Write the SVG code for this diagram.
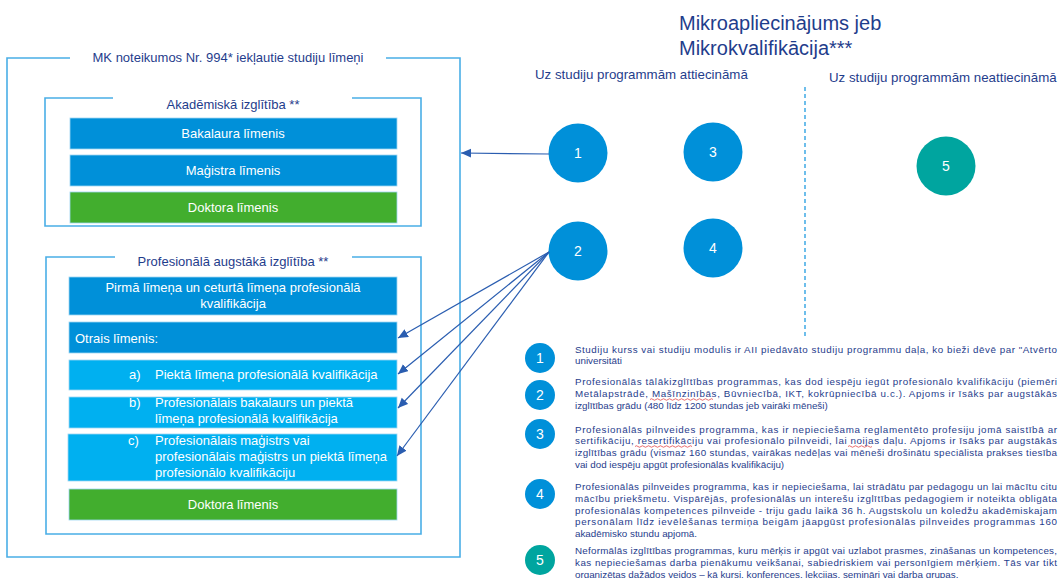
<svg xmlns="http://www.w3.org/2000/svg" width="1061" height="578" viewBox="0 0 1061 578">
<defs>
<style>
.frame{fill:none;stroke:#4aaee6;stroke-width:1.6}
.ftitle{font-family:"Liberation Sans",Arial,sans-serif;font-size:13px;fill:#1f3d8c;text-anchor:middle}
.dk{fill:#0090d9}
.lt{fill:#00b0f0}
.gr{fill:#42ae2e}
.bx{stroke:#9fd6f2;stroke-width:0.8}
.bt{font-family:"Liberation Sans",Arial,sans-serif;font-size:13px;fill:#ffffff}
.c{text-anchor:middle}
.circ{fill:#0090d9}
.teal{fill:#00a59f}
.num{font-family:"Liberation Sans",Arial,sans-serif;font-size:14px;fill:#ffffff;text-anchor:middle}
.lnum{font-family:"Liberation Sans",Arial,sans-serif;font-size:14px;fill:#ffffff;text-anchor:middle}
.hd{font-family:"Liberation Sans",Arial,sans-serif;font-size:20px;fill:#1f3d8c}
.sub{font-family:"Liberation Sans",Arial,sans-serif;font-size:13.3px;fill:#1f3d8c}
.lg{font-family:"Liberation Sans",Arial,sans-serif;font-size:9.8px;fill:#1f3d8c}
.arr{stroke:#2a5db0;stroke-width:1.2;fill:none;marker-end:url(#ah)}
.sq{fill:none;stroke:#e03030;stroke-width:0.7}
</style>
<marker id="ah" markerUnits="userSpaceOnUse" markerWidth="12" markerHeight="10" refX="10" refY="4.5" orient="auto">
<path d="M0,0 L10,4.5 L0,9 Z" fill="#2a5db0"/>
</marker>
</defs>
<rect width="1061" height="578" fill="#ffffff"/>

<g id="outer-frame">
<path class="frame" d="M70,58 H7 V557 H460 V58 H386"/>
<text class="ftitle" x="228" y="62">MK noteikumos Nr. 994* iekļautie studiju līmeņi</text>
</g>

<g id="academic-frame">
<path class="frame" d="M113,98 H45 V226 H421 V98 H352"/>
<text class="ftitle" x="233" y="109">Akadēmiskā izglītība **</text>
</g>
<g id="bakalaura"><rect class="dk bx" x="70" y="118" width="327" height="31"/><text class="bt c" x="233" y="138">Bakalaura līmenis</text></g>
<g id="magistra"><rect class="dk bx" x="70" y="155" width="327" height="31"/><text class="bt c" x="233" y="175">Maģistra līmenis</text></g>
<g id="doktora-ak"><rect class="gr bx" x="70" y="192" width="327" height="31"/><text class="bt c" x="233" y="212">Doktora līmenis</text></g>

<g id="professional-frame">
<path class="frame" d="M115,257 H46 V534 H421 V257 H352"/>
<text class="ftitle" x="233" y="266">Profesionālā augstākā izglītība **</text>
</g>
<g id="pirma"><rect class="dk bx" x="69" y="277" width="328" height="38"/><text class="bt c" x="233" y="292">Pirmā līmeņa un ceturtā līmeņa profesionālā</text><text class="bt c" x="233" y="308">kvalifikācija</text></g>
<g id="otrais"><rect class="dk bx" x="69" y="322" width="328" height="31"/><text class="bt" x="75" y="343">Otrais līmenis:</text></g>
<g id="a"><rect class="lt bx" x="69" y="360" width="328" height="30"/><text class="bt" x="129" y="379">a)</text><text class="bt" x="155" y="379">Piektā līmeņa profesionālā kvalifikācija</text></g>
<g id="b"><rect class="lt bx" x="69" y="397" width="328" height="31"/><text class="bt" x="129" y="407">b)</text><text class="bt" x="155" y="407">Profesionālais bakalaurs un piektā</text><text class="bt" x="155" y="423">līmeņa profesionālā kvalifikācija</text></g>
<g id="c"><rect class="lt bx" x="68" y="434" width="329" height="47"/><text class="bt" x="128" y="445">c)</text><text class="bt" x="155" y="445">Profesionālais maģistrs vai</text><text class="bt" x="155" y="461">profesionālais maģistrs un piektā līmeņa</text><text class="bt" x="155" y="477">profesionālo kvalifikāciju</text></g>
<g id="doktora-pr"><rect class="gr bx" x="69" y="489" width="328" height="31"/><text class="bt c" x="233" y="509">Doktora līmenis</text></g>

<g id="heading">
<text class="hd" x="679" y="30">Mikroapliecinājums jeb</text>
<text class="hd" x="679" y="55">Mikrokvalifikācija***</text>
<text class="sub" x="535" y="79">Uz studiju programmām attiecināmā</text>
<text class="sub" x="829" y="82">Uz studiju programmām neattiecināmā</text>
</g>

<g id="divider"><line x1="805" y1="87" x2="805" y2="337" stroke="#4aaee6" stroke-width="1.6" stroke-dasharray="4,3"/></g>

<g id="circle-1"><circle class="circ" cx="578" cy="153" r="29.5"/><text class="num" x="578" y="158">1</text></g>
<g id="circle-3"><circle class="circ" cx="713" cy="152" r="29.5"/><text class="num" x="713" y="157">3</text></g>
<g id="circle-2"><circle class="circ" cx="578" cy="251" r="29.5"/><text class="num" x="578" y="256">2</text></g>
<g id="circle-4"><circle class="circ" cx="713" cy="248" r="29.5"/><text class="num" x="713" y="253">4</text></g>
<g id="circle-5"><circle class="teal" cx="946" cy="166" r="29.5"/><text class="num" x="946" y="171">5</text></g>

<g id="connectors">
<line class="arr" x1="549" y1="154" x2="461" y2="153"/>
<line class="arr" x1="549" y1="252" x2="398" y2="338"/>
<line class="arr" x1="549" y1="252" x2="398" y2="374"/>
<line class="arr" x1="549" y1="252" x2="398" y2="408"/>
<line class="arr" x1="549" y1="252" x2="397" y2="456"/>
</g>

<g id="legend-1"><circle class="circ" cx="540" cy="358" r="15"/><text class="lnum" x="540" y="363">1</text>
<text class="lg" x="575" y="352.5" textLength="482" lengthAdjust="spacing">Studiju kurss vai studiju modulis ir AII piedāvāto studiju programmu daļa, ko bieži dēvē par "Atvērto</text>
<text class="lg" x="575" y="364">universitāti</text></g>

<g id="legend-2"><circle class="circ" cx="540" cy="395" r="15"/><text class="lnum" x="540" y="400">2</text>
<text class="lg" x="575" y="385" textLength="482" lengthAdjust="spacing">Profesionālās tālākizglītības programmas, kas dod iespēju iegūt profesionālo kvalifikāciju (piemēri</text>
<text class="lg" x="575" y="397" textLength="482" lengthAdjust="spacing">Metālapstrādē, Mašīnzinībās, Būvniecībā, IKT, kokrūpniecībā u.c.). Apjoms ir īsāks par augstākās</text>
<text class="lg" x="575" y="409">izglītības grādu (480 līdz 1200 stundas jeb vairāki mēneši)</text>
<path class="sq" d="M650,399.5 q1.5,-1.5 3,0 t3,0 t3,0 t3,0 t3,0 t3,0 t3,0 t3,0 t3,0 t3,0 t3,0 t3,0 t3,0 t3,0 t3,0 t3,0 t3,0 t3,0 t3,0 t3,0 t3,0"/></g>

<g id="legend-3"><circle class="circ" cx="540" cy="434" r="15"/><text class="lnum" x="540" y="439">3</text>
<text class="lg" x="575" y="432.5" textLength="482" lengthAdjust="spacing">Profesionālās pilnveides programma, kas ir nepieciešama reglamentēto profesiju jomā saistībā ar</text>
<text class="lg" x="575" y="444" textLength="482" lengthAdjust="spacing">sertifikāciju, resertifikāciju vai profesionālo pilnveidi, lai noijas daļu. Apjoms ir īsāks par augstākās</text>
<text class="lg" x="575" y="456" textLength="482" lengthAdjust="spacing">izglītības grādu (vismaz 160 stundas, vairākas nedēļas vai mēneši drošinātu speciālista prakses tiesība</text>
<text class="lg" x="575" y="468">vai dod iespēju apgūt profesionālās kvalifikāciju)</text>
<path class="sq" d="M635,446.5 q1.5,-1.5 3,0 t3,0 t3,0 t3,0 t3,0 t3,0 t3,0 t3,0 t3,0 t3,0 t3,0 t3,0 t3,0 t3,0 t3,0 t3,0 t3,0 t3,0 t3,0"/>
<path class="sq" d="M848,446.5 q1.5,-1.5 3,0 t3,0 t3,0 t3,0 t3,0 t3,0 t3,0 t3,0"/></g>

<g id="legend-4"><circle class="circ" cx="540" cy="494" r="15"/><text class="lnum" x="540" y="499">4</text>
<text class="lg" x="575" y="490" textLength="482" lengthAdjust="spacing">Profesionālās pilnveides programma, kas ir nepieciešama, lai strādātu par pedagogu un lai mācītu citu</text>
<text class="lg" x="575" y="502" textLength="482" lengthAdjust="spacing">mācību priekšmetu. Vispārējās, profesionālās un interešu izglītības pedagogiem ir  noteikta obligāta</text>
<text class="lg" x="575" y="513.5" textLength="482" lengthAdjust="spacing">profesionālās kompetences pilnveide - triju gadu laikā 36 h. Augstskolu un koledžu akadēmiskajam</text>
<text class="lg" x="575" y="525" textLength="482" lengthAdjust="spacing">personālam līdz ievēlēšanas termiņa beigām jāapgūst profesionālās pilnveides programmas 160</text>
<text class="lg" x="575" y="537">akadēmisko stundu apjomā.</text></g>

<g id="legend-5"><circle class="teal" cx="540" cy="560" r="15"/><text class="lnum" x="540" y="565">5</text>
<text class="lg" x="575" y="554" textLength="482" lengthAdjust="spacing">Neformālās izglītības programmas, kuru mērķis ir apgūt vai uzlabot prasmes, zināšanas un kompetences,</text>
<text class="lg" x="575" y="566" textLength="482" lengthAdjust="spacing">kas nepieciešamas darba pienākumu veikšanai, sabiedriskiem vai personīgiem mērķiem. Tās var tikt</text>
<text class="lg" x="575" y="577.5">organizētas dažādos veidos – kā kursi, konferences, lekcijas, semināri vai darba grupas.</text></g>
</svg>
